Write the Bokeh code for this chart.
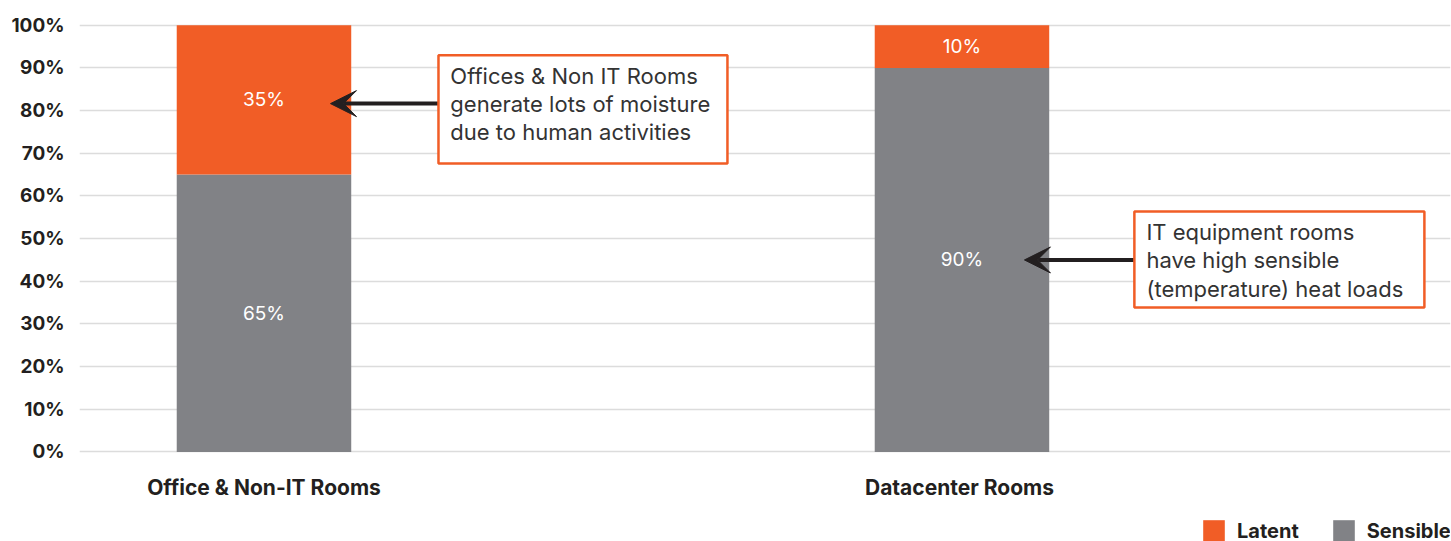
from bokeh.plotting import figure
from bokeh.models import (Range1d, FixedTicker, ColumnDataSource, BoxAnnotation, Label,
                          Arrow, VeeHead, Legend, LegendItem, PrintfTickFormatter)
from bokeh.core.properties import value
from bokeh.embed import file_html
from bokeh.resources import INLINE

# ---- data ----
categories = ["Office & Non-IT Rooms", "Datacenter  Rooms"]
sensible = [65, 90]
latent = [35, 10]
y_ticks = [0, 10, 20, 30, 40, 50, 60, 70, 80, 90, 100]
note_office = ["Offices & Non IT Rooms", "generate lots of moisture", "due to human activities"]
note_dc = ["IT equipment rooms", "have high sensible", "(temperature) heat loads"]

ORANGE = "#F15D26"
GRAY = "#818286"
DARK = "#231F20"
FONT = "Inter"

xs = list(range(len(categories)))
src = ColumnDataSource(dict(
    x=xs, sensible=sensible, latent=latent,
    s_mid=[s / 2 for s in sensible],
    l_mid=[s + l / 2 for s, l in zip(sensible, latent)],
    s_txt=[f"{s}%" for s in sensible],
    l_txt=[f"{l}%" for l in latent],
))

# frame spans to the bottom of the canvas; the x axis is pinned at y=0
p = figure(width=1451, height=541, output_backend="svg", toolbar_location=None,
           x_range=Range1d(-0.2643, 1.6999), y_range=Range1d(-21.0, 103),
           min_border_left=79, min_border_right=1, min_border_top=12, min_border_bottom=0)
p.outline_line_color = None
p.background_fill_color = "white"

rs = p.vbar_stack(["sensible", "latent"], x="x", width=0.25, color=[GRAY, ORANGE],
                  source=src, line_color=None)

for ycol, tcol in (("s_mid", "s_txt"), ("l_mid", "l_txt")):
    p.text(x="x", y=ycol, text=tcol, source=src, text_color="white",
           text_font=value(FONT), text_font_size="19px", text_align="center",
           text_baseline="middle")

# axes
p.xaxis.fixed_location = 0
p.xaxis.ticker = FixedTicker(ticks=xs)
p.xaxis.major_label_overrides = {i: c for i, c in enumerate(categories)}
p.xaxis.axis_line_color = None
p.xaxis.major_tick_line_color = None
p.xaxis.minor_tick_line_color = None
p.xaxis.major_label_standoff = 17
p.xaxis.major_label_text_font = FONT
p.xaxis.major_label_text_font_size = "21px"
p.xaxis.major_label_text_font_style = "bold"
p.xaxis.major_label_text_color = DARK

p.yaxis.ticker = FixedTicker(ticks=y_ticks)
p.yaxis.formatter = PrintfTickFormatter(format="%d%%")
p.yaxis.axis_line_color = None
p.yaxis.major_tick_line_color = None
p.yaxis.minor_tick_line_color = None
p.yaxis.major_label_standoff = 9
p.yaxis.major_label_text_font = FONT
p.yaxis.major_label_text_font_size = "19px"
p.yaxis.major_label_text_font_style = "bold"
p.yaxis.major_label_text_color = DARK

p.xgrid.visible = False
p.ygrid.grid_line_color = "#DCDCDC"
p.ygrid.grid_line_width = 1.5

# arrows
p.add_layout(Arrow(end=VeeHead(size=26, fill_color=DARK, line_color=DARK),
                   x_start=0.25, y_start=81.64, x_end=0.0953, y_end=81.64,
                   line_width=4, line_color=DARK))
p.add_layout(Arrow(end=VeeHead(size=26, fill_color=DARK, line_color=DARK),
                   x_start=1.247, y_start=45.0, x_end=1.0895, y_end=45.0,
                   line_width=4, line_color=DARK))

# annotation boxes
p.add_layout(BoxAnnotation(left=0.25, right=0.664, top=92.97, bottom=67.58,
                           fill_color="white", fill_alpha=1.0,
                           line_color=ORANGE, line_alpha=1.0, line_width=2.5))
p.add_layout(BoxAnnotation(left=1.247, right=1.6625, top=56.33, bottom=33.83,
                           fill_color="white", fill_alpha=1.0,
                           line_color=ORANGE, line_alpha=1.0, line_width=2.5))

for txt, yy in zip(note_office, [88.2, 81.65, 75.08]):
    p.add_layout(Label(x=0.267, y=yy, text=txt, text_font=FONT, text_font_size="22px",
                       text_color="#333333", text_baseline="middle", text_align="left"))
for txt, yy in zip(note_dc, [51.64, 45.08, 38.28]):
    p.add_layout(Label(x=1.2642, y=yy, text=txt, text_font=FONT, text_font_size="22px",
                       text_color="#333333", text_baseline="middle", text_align="left"))

# legend
legend = Legend(items=[LegendItem(label="Latent", renderers=[rs[1]]),
                       LegendItem(label="Sensible", renderers=[rs[0]])],
                location=(1121, -3), orientation="horizontal",
                glyph_width=27, glyph_height=27, label_standoff=10, spacing=31,
                padding=0, margin=0, border_line_color=None,
                background_fill_alpha=0,
                label_text_font=FONT, label_text_font_size="20px",
                label_text_font_style="bold", label_text_color=DARK)
p.add_layout(legend)

open("out.html", "w").write(file_html(p, INLINE))
